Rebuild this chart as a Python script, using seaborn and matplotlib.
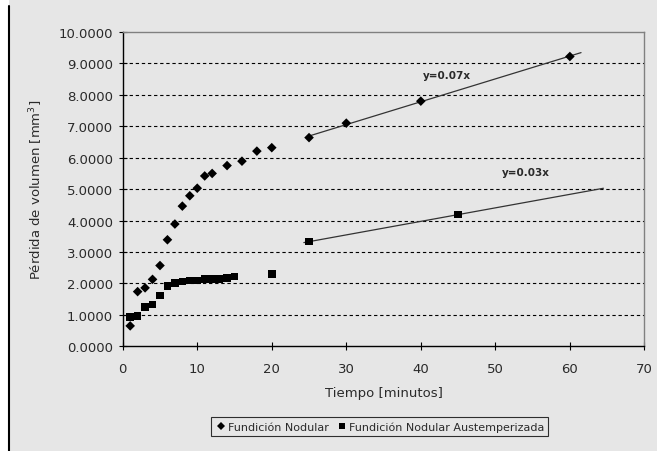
import numpy as np
import pandas as pd
import matplotlib
matplotlib.use("Agg")
import matplotlib.pyplot as plt
from matplotlib.ticker import FormatStrFormatter, MultipleLocator
from matplotlib.lines import Line2D
from matplotlib.patches import Rectangle
import seaborn as sns

# Wear test: volume loss over time for two cast irons
t_nodular = [1, 2, 3, 4, 5, 6, 7, 8, 9, 10, 11, 12, 14, 16, 18, 20, 25, 30, 40, 60]
v_nodular = [0.65, 1.74, 1.86, 2.13, 2.57, 3.39, 3.89, 4.46, 4.79, 5.03, 5.42, 5.50,
             5.75, 5.89, 6.21, 6.32, 6.64, 7.10, 7.80, 9.22]

t_adi = [1, 2, 3, 4, 5, 6, 7, 8, 9, 10, 11, 12, 13, 14, 15, 20, 25, 45]
v_adi = [0.93, 0.97, 1.25, 1.33, 1.62, 1.92, 2.02, 2.06, 2.09, 2.09, 2.14, 2.14,
         2.14, 2.17, 2.22, 2.31, 3.33, 4.19]

series_names = ["Fundición Nodular", "Fundición Nodular Austemperizada"]
trend_labels = ["y=0.07x", "y=0.03x"]
trend_start = [25, 25]          # linear regime used for the fits
trend_span = [(25, 61.5), (24.3, 64.5)]

df = pd.concat([
    pd.DataFrame({"t": t_nodular, "v": v_nodular, "serie": series_names[0]}),
    pd.DataFrame({"t": t_adi, "v": v_adi, "serie": series_names[1]}),
])

bg = "#e6e6e6"
txt_col = "#2a2a2a"
sns.set_theme(style="white")
plt.rcParams["font.family"] = ["DejaVu Sans"]

fig = plt.figure(figsize=(6.57, 4.52), dpi=100, facecolor=bg)
ax = fig.add_axes([0.1868, 0.2316, 0.794, 0.6954], facecolor=bg)

sns.scatterplot(data=df, x="t", y="v", hue="serie", style="serie",
                markers={series_names[0]: "D", series_names[1]: "s"},
                palette={series_names[0]: "black", series_names[1]: "black"},
                size="serie", sizes={series_names[0]: 24, series_names[1]: 30},
                linewidth=0, ax=ax, legend=True, zorder=3)

# Linear fits over the long-duration points
for (tt, vv), start, (x0, x1), lab, lpos in zip(
        [(t_nodular, v_nodular), (t_adi, v_adi)], trend_start, trend_span,
        trend_labels, [(43.5, 8.62), (54.1, 5.56)]):
    tt = np.asarray(tt, float)
    vv = np.asarray(vv, float)
    m = tt >= start
    k, b = np.polyfit(tt[m], vv[m], 1)
    xs = np.array([x0, x1])
    ax.plot(xs, k * xs + b, color="#333333", lw=0.9, zorder=2)
    ax.text(lpos[0], lpos[1], lab, fontsize=7.5, fontweight="bold",
            color=txt_col, ha="center", va="center")

ax.set_xlim(0, 70)
ax.set_ylim(0, 10)
ax.xaxis.set_major_locator(MultipleLocator(10))
ax.yaxis.set_major_locator(MultipleLocator(1))
ax.yaxis.set_major_formatter(FormatStrFormatter("%.4f"))
ax.tick_params(axis="both", direction="inout", length=6, width=0.8,
               colors="black", labelsize=9.5, labelcolor=txt_col)
ax.tick_params(axis="x", pad=8)
ax.tick_params(axis="y", pad=4)
ax.tick_params(left=True, bottom=True)

for yv in range(1, 10):
    ax.axhline(yv, color="black", lw=0.8, ls=(0, (3, 2.5)), zorder=1)

ax.spines["left"].set_color("black")
ax.spines["bottom"].set_color("black")
ax.spines["top"].set_color("#808080")
ax.spines["right"].set_color("#808080")
for s in ax.spines.values():
    s.set_linewidth(1.0)

ax.set_xlabel("Tiempo [minutos]", fontsize=9.5, color=txt_col, labelpad=8)
ax.set_ylabel("Pérdida de volumen [mm$^3$]", fontsize=9.5, color=txt_col, labelpad=10)

handles, labels = ax.get_legend_handles_labels()
ax.get_legend().remove()
keep = [i for i, l in enumerate(labels) if l in series_names]
seen = {}
for i in keep:
    seen.setdefault(labels[i], handles[i])
handles = [seen[n] for n in series_names]
labels = list(series_names)
for h in handles:
    h.set_markersize(4)
    h.set_color("black")
    h.set_markerfacecolor("black")
    h.set_markeredgecolor("black")
leg = fig.legend(handles, labels, loc="center", bbox_to_anchor=(0.578, 0.054),
                 ncol=2, fontsize=8, frameon=True, fancybox=False,
                 edgecolor="black", facecolor=bg, handletextpad=0.1,
                 columnspacing=0.7, handlelength=1.0, borderpad=0.4)
leg.get_frame().set_linewidth(0.8)
for t in leg.get_texts():
    t.set_color(txt_col)

# Outer frame: white margin and black edge on the left
fig.patches.append(Rectangle((0, 0), 9 / 657, 1, transform=fig.transFigure,
                             facecolor="white", edgecolor="none", zorder=0))
fig.lines.append(Line2D([9 / 657, 9 / 657], [0, 1 - 7 / 452],
                        transform=fig.transFigure, color="black", lw=1.5))

fig.savefig("out.png", dpi=100, facecolor=bg)
